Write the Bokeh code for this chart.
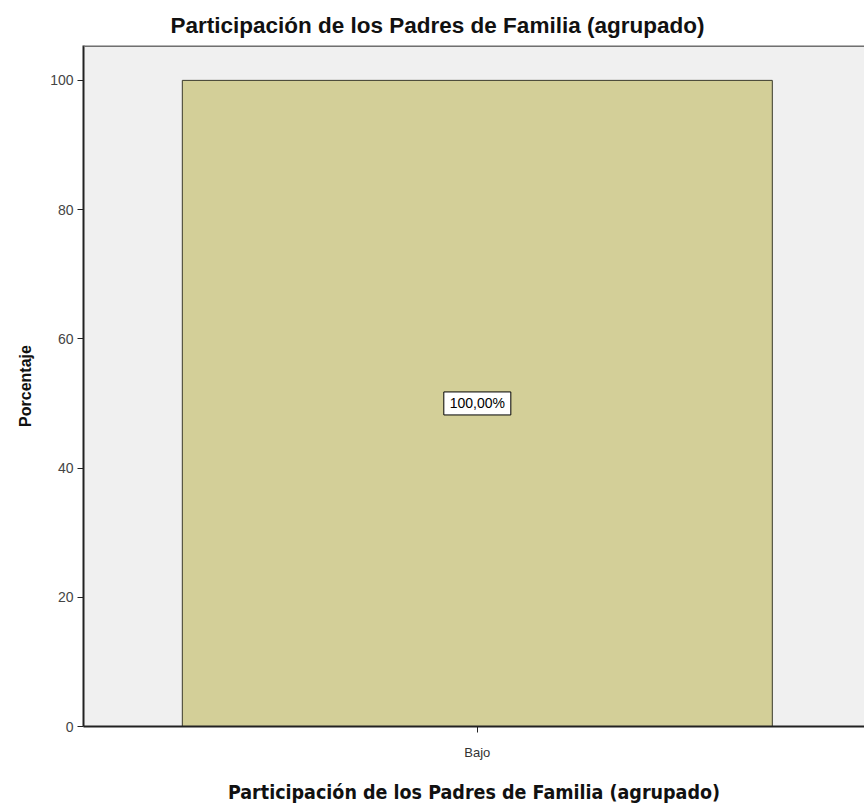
from bokeh.plotting import figure
from bokeh.models import Range1d, FixedTicker, ColumnDataSource, Title, Span
from bokeh.core.properties import value
from bokeh.embed import file_html
from bokeh.resources import INLINE

categories = ["Bajo"]
percentages = [100.0]
bar_labels = ["100,00%"]
y_ticks = [0, 20, 40, 60, 80, 100]
y_max = 105.4

xs = list(range(len(categories)))
source = ColumnDataSource(dict(
    x=xs,
    top=percentages,
    mid=[v / 2 for v in percentages],
    label=bar_labels,
))

p = figure(width=864, height=806, output_backend="svg", toolbar_location=None,
           x_range=Range1d(-0.534, 0.525), y_range=Range1d(0, y_max),
           min_border_left=83, min_border_right=0, min_border_top=45, min_border_bottom=79)

p.background_fill_color = "#f0f0f0"
p.border_fill_color = "white"
p.outline_line_color = None
p.xgrid.visible = False
p.ygrid.visible = False

p.add_layout(Span(location=y_max, dimension="width", line_color="#707070", line_width=3))

p.vbar(x="x", top="top", bottom=0, width=0.8, source=source,
       fill_color="#d3cf98", line_color="#3a3a2a", line_width=1)

p.rect(x="x", y="mid", width=67, height=23, width_units="screen", height_units="screen",
       source=source, fill_color="white", line_color="black", line_width=1)
p.text(x="x", y="mid", text="label", source=source,
       text_align="center", text_baseline="middle",
       text_font=value("Liberation Sans"), text_font_size="14px", text_color="black")

title = Title(text="Participación de los Padres de Familia (agrupado)", align="left",
              offset=87, text_font="Liberation Sans", text_font_size="22.5px",
              text_font_style="bold", text_color="#111111", standoff=16)
p.add_layout(title, "above")

p.xaxis.ticker = FixedTicker(ticks=xs)
p.xaxis.major_label_overrides = {i: c for i, c in zip(xs, categories)}
p.xaxis.axis_label = "Participación de los Padres de Familia (agrupado)"
p.xaxis.axis_label_text_font = "DejaVu Sans Condensed"
p.xaxis.axis_label_text_font_size = "19.5px"
p.xaxis.axis_label_text_font_style = "bold"
p.xaxis.axis_label_text_color = "#111111"
p.xaxis.axis_label_standoff = 18
p.xaxis.major_label_text_font = "Liberation Sans"
p.xaxis.major_label_text_font_size = "13px"
p.xaxis.major_label_text_color = "#333333"
p.xaxis.major_label_standoff = 12
p.xaxis.minor_tick_line_color = None

p.yaxis.ticker = FixedTicker(ticks=y_ticks)
p.yaxis.axis_label = "Porcentaje"
p.yaxis.axis_label_text_font = "Liberation Sans"
p.yaxis.axis_label_text_font_size = "16px"
p.yaxis.axis_label_text_font_style = "bold"
p.yaxis.axis_label_text_color = "#111111"
p.yaxis.axis_label_standoff = 13
p.yaxis.major_label_text_font = "Liberation Sans"
p.yaxis.major_label_text_font_size = "14px"
p.yaxis.major_label_text_color = "#444444"
p.yaxis.major_label_standoff = 4
p.yaxis.minor_tick_line_color = None

for ax in (p.xaxis, p.yaxis):
    ax.axis_line_color = "#222222"
    ax.axis_line_width = 2
    ax.major_tick_line_color = "#222222"
    ax.major_tick_out = 6
    ax.major_tick_in = 0

open("out.html", "w").write(file_html(p, INLINE))
